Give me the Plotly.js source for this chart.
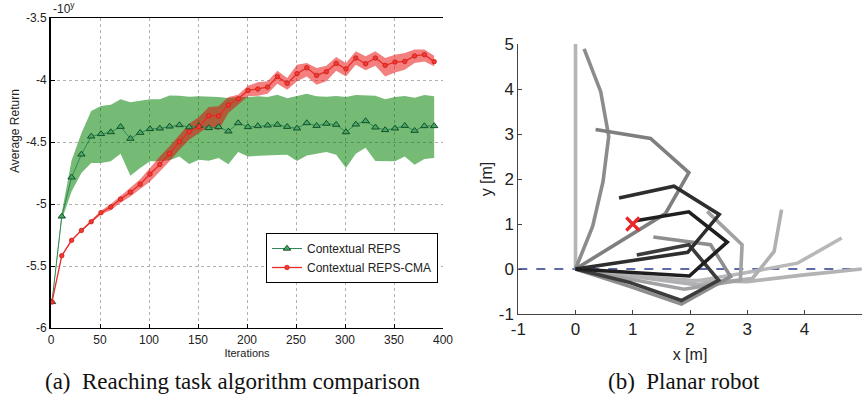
<!DOCTYPE html>
<html><head><meta charset="utf-8">
<script src="https://cdn.plot.ly/plotly-3.0.1.min.js"></script>
<style>html,body{margin:0;padding:0;background:#fff}#chart{width:866px;height:397px}</style>
</head><body><div id="chart"></div>
<script>
// ---------- (a) data ----------
const iterations = [1,11,21,31,41,51,61,71,81,91,101,111,121,131,141,151,161,171,181,191,201,211,221,231,241,251,261,271,281,291,301,311,321,331,341,351,361,371,381,391];
const repsMean  = [-5.79,-5.10,-4.785,-4.60,-4.455,-4.435,-4.42,-4.377,-4.473,-4.425,-4.395,-4.39,-4.374,-4.363,-4.38,-4.37,-4.387,-4.379,-4.414,-4.347,-4.379,-4.371,-4.366,-4.36,-4.377,-4.39,-4.347,-4.369,-4.352,-4.36,-4.42,-4.358,-4.331,-4.382,-4.403,-4.39,-4.369,-4.409,-4.371,-4.371];
const repsUpper = [-5.78,-5.07,-4.65,-4.43,-4.25,-4.21,-4.20,-4.155,-4.18,-4.165,-4.155,-4.155,-4.125,-4.127,-4.135,-4.132,-4.132,-4.137,-4.145,-4.137,-4.137,-4.132,-4.137,-4.118,-4.148,-4.132,-4.11,-4.132,-4.135,-4.129,-4.137,-4.121,-4.124,-4.127,-4.156,-4.137,-4.129,-4.143,-4.121,-4.132];
const repsLower = [-5.80,-5.13,-4.90,-4.75,-4.669,-4.669,-4.656,-4.594,-4.772,-4.71,-4.656,-4.656,-4.648,-4.616,-4.677,-4.643,-4.651,-4.63,-4.68,-4.581,-4.616,-4.611,-4.608,-4.605,-4.602,-4.653,-4.608,-4.594,-4.581,-4.602,-4.71,-4.594,-4.546,-4.653,-4.653,-4.656,-4.616,-4.683,-4.637,-4.629];
const cmaMean  = [-5.79,-5.417,-5.293,-5.213,-5.143,-5.07,-5.024,-4.96,-4.905,-4.84,-4.758,-4.681,-4.594,-4.498,-4.417,-4.377,-4.288,-4.29,-4.202,-4.151,-4.084,-4.073,-4.057,-3.973,-4.027,-3.949,-3.901,-3.963,-3.933,-3.866,-3.911,-3.823,-3.869,-3.823,-3.882,-3.855,-3.85,-3.806,-3.796,-3.852];
const cmaUpper = [-5.785,-5.41,-5.285,-5.205,-5.13,-5.055,-5.0,-4.935,-4.87,-4.80,-4.71,-4.616,-4.535,-4.441,-4.352,-4.298,-4.218,-4.212,-4.137,-4.118,-4.046,-4.019,-4.011,-3.925,-3.984,-3.877,-3.863,-3.903,-3.885,-3.815,-3.863,-3.769,-3.809,-3.769,-3.823,-3.796,-3.782,-3.755,-3.755,-3.804];
const cmaLower = [-5.795,-5.425,-5.30,-5.22,-5.155,-5.085,-5.05,-4.99,-4.94,-4.88,-4.82,-4.737,-4.656,-4.562,-4.481,-4.427,-4.374,-4.406,-4.266,-4.199,-4.132,-4.127,-4.11,-4.03,-4.078,-4.011,-3.971,-4.038,-4.011,-3.925,-3.971,-3.877,-3.922,-3.885,-3.971,-3.939,-3.917,-3.863,-3.85,-3.89];
const seriesNames = ["Contextual REPS","Contextual REPS-CMA"];
const xTicksA = [0,50,100,150,200,250,300,350,400];
const yTicksA = [-6,-5.5,-5,-4.5,-4,-3.5];

// ---------- (b) data: joint positions of each arm ----------
const armX = [
  [0,0,0,0,0,0],
  [0,1,2,3,4,5],
  [0,0.98,1.95,2.9,3.88,4.65],
  [0,1.05,2.1,3.09,3.47,3.6],
  [0,0.95,1.9,2.88,2.91,2.30],
  [0,0.30,0.48,0.58,0.44,0.15],
  [0,0.93,1.85,2.71,2.36,1.36],
  [0,0.785,1.57,1.98,1.31,0.35],
  [0,0.95,1.85,2.5,1.98,1.07],
  [0,0.98,1.96,2.51,1.72,0.76],
  [0,0.995,1.99,2.65,1.98,1.05]
];
const armY = [
  [0,1,2,3,4,5],
  [0,-0.15,-0.25,-0.28,-0.13,0],
  [0,-0.15,-0.3,-0.1,0.13,0.69],
  [0,-0.18,-0.35,-0.21,0.39,1.32],
  [0,-0.22,-0.45,-0.25,0.54,1.28],
  [0,0.95,1.94,2.95,3.94,4.89],
  [0,-0.38,-0.78,-0.17,0.54,0.71],
  [0,0.615,1.23,2.14,2.9,3.10],
  [0,-0.3,-0.7,-0.25,0.54,0.31],
  [0,0.19,0.37,1.21,1.84,1.58],
  [0,-0.08,-0.155,0.6,1.27,1.07]
];
const armColors = ["#b5b5b8","#b3b3b5","#b8b8ba","#b0b0b2","#a2a2a4","#8c8c8e","#8e8e90","#7f7f81","#3c3c3c","#2e2e2e","#1f1f1f"];
const goalX = [1], goalY = [1];
const baseX = [-1,5], baseY = [0,0];
const ticksB = [-1,0,1,2,3,4,5];

const traces = [];
traces.push({x: iterations.concat(iterations.slice().reverse()), y: repsUpper.concat(repsLower.slice().reverse()),
  fill:'toself', fillcolor:'rgba(0,128,0,0.54)', line:{width:0}, mode:'lines', hoverinfo:'skip', showlegend:false, xaxis:'x', yaxis:'y'});
traces.push({x: iterations.concat(iterations.slice().reverse()), y: cmaUpper.concat(cmaLower.slice().reverse()),
  fill:'toself', fillcolor:'rgba(232,0,0,0.5)', line:{width:0}, mode:'lines', hoverinfo:'skip', showlegend:false, xaxis:'x', yaxis:'y'});
traces.push({x: iterations, y: repsMean, name: seriesNames[0], mode:'lines+markers',
  line:{color:'#2e8b57', width:1}, marker:{symbol:'triangle-up', size:6.5, color:'#4aa866', line:{color:'#14502a', width:1}}, xaxis:'x', yaxis:'y'});
traces.push({x: iterations, y: cmaMean, name: seriesNames[1], mode:'lines+markers',
  line:{color:'#ec2a24', width:1.3}, marker:{symbol:'circle', size:4.5, color:'#ec3a34', line:{color:'#d01a14', width:0.8}}, xaxis:'x', yaxis:'y'});
traces.push({x: baseX, y: baseY, mode:'lines', line:{color:'#2a3a8c', width:1.4, dash:'dash'}, showlegend:false, xaxis:'x2', yaxis:'y2', hoverinfo:'skip'});
for (let i = 0; i < armX.length; i++) {
  traces.push({x: armX[i], y: armY[i], mode:'lines', line:{color: armColors[i], width:3.6}, showlegend:false, xaxis:'x2', yaxis:'y2'});
}
traces.push({x: goalX, y: goalY, mode:'markers', marker:{symbol:'x-thin', size:13, line:{color:'#e8262a', width:3.2}}, showlegend:false, xaxis:'x2', yaxis:'y2'});

const W = 866, H = 397;
const fx = p => p / W, fy = p => 1 - p / H;
const SANS = 'Liberation Sans, Arial, sans-serif';
const tickFontA = {family:SANS, size:12, color:'#222'};
const tickFontB = {family:SANS, size:17, color:'#222'};

const layout = {
  width: W, height: H, margin:{l:0,r:0,t:0,b:0}, paper_bgcolor:'#fff', plot_bgcolor:'rgba(0,0,0,0)',
  showlegend: true,
  legend: {x: fx(266), y: fy(233), xanchor:'left', yanchor:'top', bgcolor:'#fff', bordercolor:'#000', borderwidth:1,
    font:{family:SANS, size:12, color:'#222'}, tracegroupgap:0, itemwidth:30},
  xaxis: {domain:[fx(51), fx(443)], range:[0,400], tickvals:xTicksA, ticktext:xTicksA.map(String), ticks:'inside', ticklen:4, tickcolor:'#000',
    showline:true, linecolor:'#000', linewidth:1.2, mirror:true, showgrid:true, gridcolor:'#b0b0b0', griddash:'dot', gridwidth:1, zeroline:false,
    tickfont: tickFontA, anchor:'y', title:{text:'Iterations', font:{family:SANS, size:11, color:'#222'}, standoff:2}},
  yaxis: {domain:[fy(328), fy(18)], range:[-6,-3.5], tickvals:yTicksA, ticktext:yTicksA.map(String), ticks:'inside', ticklen:4, tickcolor:'#000',
    showline:true, linecolor:'#000', linewidth:2, showgrid:true, gridcolor:'#b0b0b0', griddash:'dot', gridwidth:1, zeroline:false,
    tickfont: tickFontA, anchor:'x'},
  xaxis2: {domain:[fx(518.3), fx(861.7)], range:[-1,5], tickvals:ticksB, ticktext:ticksB.map(String), ticks:'inside', ticklen:4, tickcolor:'#444',
    showline:true, linecolor:'#444', linewidth:1, showgrid:false, zeroline:false, tickfont: tickFontB, anchor:'y2',
    title:{text:'x [m]', font:{family:SANS, size:16, color:'#222'}, standoff:10}},
  yaxis2: {domain:[fy(314), fy(44)], range:[-1,5], tickvals:ticksB, ticktext:ticksB.map(String), ticks:'inside', ticklen:4, tickcolor:'#444',
    showline:true, linecolor:'#444', linewidth:1, showgrid:false, zeroline:false, tickfont: tickFontB, anchor:'x2',
    title:{text:'y [m]', font:{family:SANS, size:16, color:'#222'}, standoff:2}},
  annotations: [
    {text:'Average Return', xref:'paper', yref:'paper', x:fx(15), y:fy(131), xanchor:'center', yanchor:'middle', textangle:-90, showarrow:false,
      font:{family:SANS, size:12, color:'#222'}},
    {text:'-10<sup>y</sup>', xref:'paper', yref:'paper', x:fx(51), y:fy(18), xanchor:'left', yanchor:'bottom', showarrow:false,
      font:{family:SANS, size:12, color:'#222'}},
    {text:'(a)  Reaching task algorithm comparison', xref:'paper', yref:'paper', x:fx(233), y:fy(381), xanchor:'center', yanchor:'middle', showarrow:false,
      font:{family:'Liberation Serif, Times New Roman, serif', size:23, color:'#111'}},
    {text:'(b)  Planar robot', xref:'paper', yref:'paper', x:fx(684), y:fy(381), xanchor:'center', yanchor:'middle', showarrow:false,
      font:{family:'Liberation Serif, Times New Roman, serif', size:23, color:'#111'}}
  ]
};
Plotly.newPlot('chart', traces, layout, {displayModeBar:false, staticPlot:true});
</script></body></html>
